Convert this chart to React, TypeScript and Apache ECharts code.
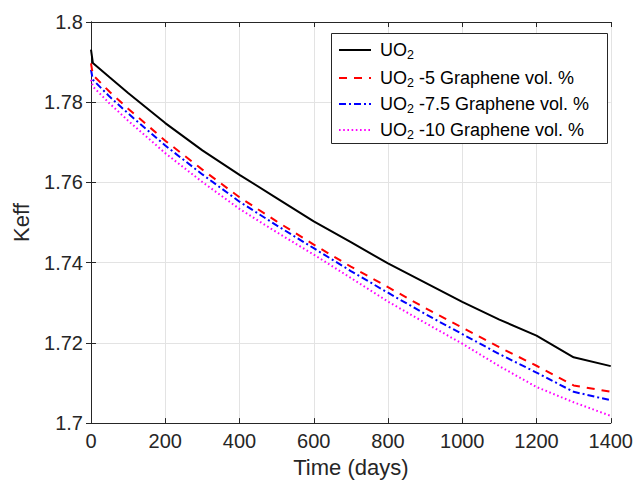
import React, { useEffect, useRef } from "react";
import * as echarts from "echarts";

const days = [0, 5, 50, 100, 200, 300, 400, 500, 600, 700, 800, 900, 1000, 1100, 1200, 1300, 1400];
const keffUO2 = [1.7931, 1.7898, 1.7862, 1.7823, 1.7748, 1.7680, 1.7619, 1.7561, 1.7503, 1.7451, 1.7398, 1.735, 1.7302, 1.7258, 1.7218, 1.7164, 1.7142];
const keff5 = [1.7897, 1.7868, 1.7826, 1.7784, 1.7704, 1.7632, 1.7563, 1.7503, 1.7445, 1.739, 1.7339, 1.7287, 1.7238, 1.7189, 1.7143, 1.7094, 1.7078];
const keff75 = [1.7881, 1.7856, 1.7814, 1.7772, 1.7692, 1.762, 1.7552, 1.7493, 1.7436, 1.7379, 1.7325, 1.7272, 1.7222, 1.7172, 1.7126, 1.7078, 1.7057];
const keff10 = [1.7856, 1.7839, 1.7797, 1.7754, 1.7673, 1.7601, 1.7534, 1.7476, 1.742, 1.7362, 1.7303, 1.725, 1.7198, 1.7142, 1.709, 1.7052, 1.7018];

const seriesNames = ["UO2", "UO2 -5 Graphene vol. %", "UO2 -7.5 Graphene vol. %", "UO2 -10 Graphene vol. %"];
const legendRich = [
  "{n|UO}{s|2}",
  "{n|UO}{s|2}{n| -5 Graphene vol. %}",
  "{n|UO}{s|2}{n| -7.5 Graphene vol. %}",
  "{n|UO}{s|2}{n| -10 Graphene vol. %}",
];
const xMin = 0, xMax = 1400, xStep = 200;
const yMin = 1.7, yMax = 1.8, yStep = 0.02;

const FONT = "'Liberation Sans', Arial, Helvetica, sans-serif";

export default function App() {
  const ref = useRef<HTMLDivElement>(null);
  useEffect(() => {
    document.body.style.margin = "0";
    const chart = echarts.init(ref.current!, null, { renderer: "svg" });
    const valueSets = [keffUO2, keff5, keff75, keff10];
    const colors = ["#000000", "#ff0000", "#0000ff", "#ff00ff"];
    const types: any[] = ["solid", [8, 7], [7, 3, 2, 3], [1.6, 2.6]];
    const rowTops = [41, 69, 95, 121];
    const axisColor = "#262626";
    const grid = { left: 91, right: 24, top: 22, bottom: 59 };
    chart.setOption({
      animation: false,
      backgroundColor: "#ffffff",
      textStyle: { fontFamily: FONT },
      grid,
      graphic: [
        {
          type: "rect",
          z: 50,
          shape: { x: 331.5, y: 33.5, width: 276, height: 110 },
          style: { fill: "#ffffff", stroke: "#262626", lineWidth: 1 },
        },
      ],
      legend: seriesNames.map((nm, i) => ({
        data: [nm],
        left: 338,
        top: rowTops[i],
        padding: 0,
        z: 60,
        itemWidth: 32,
        itemHeight: 14,
        itemStyle: { opacity: 0 },
        formatter: () => legendRich[i],
        textStyle: {
          fontFamily: FONT,
          rich: {
            n: { fontSize: 18, lineHeight: 22, color: "#000", fontFamily: FONT },
            s: { fontSize: 12.5, lineHeight: 12, verticalAlign: "bottom", color: "#000", fontFamily: FONT },
          },
          padding: [0, 0, 0, 4],
        },
      })),
      xAxis: [
        {
          type: "value",
          min: xMin,
          max: xMax,
          interval: xStep,
          name: "Time (days)",
          nameLocation: "middle",
          nameGap: 32,
          nameTextStyle: { fontSize: 22, color: "#262626", fontFamily: FONT },
          axisLine: { show: true, lineStyle: { color: axisColor, width: 1 } },
          axisTick: { show: true, inside: true, length: 5, lineStyle: { color: axisColor } },
          axisLabel: { fontSize: 20, color: "#262626", margin: 8, fontFamily: FONT, formatter: (v: number) => String(v) },
          splitLine: { show: true, lineStyle: { color: "#e3e3e3", width: 1 } },
        },
        {
          type: "value",
          position: "top",
          min: xMin,
          max: xMax,
          interval: xStep,
          axisLine: { show: true, lineStyle: { color: axisColor, width: 1 } },
          axisTick: { show: true, inside: true, length: 5, lineStyle: { color: axisColor } },
          axisLabel: { show: false },
          splitLine: { show: false },
        },
      ],
      yAxis: [
        {
          type: "value",
          min: yMin,
          max: yMax,
          interval: yStep,
          name: "Keff",
          nameLocation: "middle",
          nameGap: 59,
          nameTextStyle: { fontSize: 22, color: "#262626", fontFamily: FONT },
          axisLine: { show: true, lineStyle: { color: axisColor, width: 1 } },
          axisTick: { show: true, inside: true, length: 5, lineStyle: { color: axisColor } },
          axisLabel: { fontSize: 20, color: "#262626", margin: 8, fontFamily: FONT, formatter: (v: number) => String(+v.toFixed(2)) },
          splitLine: { show: true, lineStyle: { color: "#e3e3e3", width: 1 } },
        },
        {
          type: "value",
          position: "right",
          min: yMin,
          max: yMax,
          interval: yStep,
          axisLine: { show: true, lineStyle: { color: axisColor, width: 1 } },
          axisTick: { show: true, inside: true, length: 5, lineStyle: { color: axisColor } },
          axisLabel: { show: false },
          splitLine: { show: false },
        },
      ],
      series: seriesNames.map((nm, i) => ({
        name: nm,
        type: "line",
        xAxisIndex: 0,
        yAxisIndex: 0,
        showSymbol: false,
        symbol: "none",
        color: colors[i],
        lineStyle: { color: colors[i], width: 2, type: types[i] },
        data: days.map((d, k) => [d, valueSets[i][k]]),
        z: 10 - i,
      })),
    });
    return () => chart.dispose();
  }, []);
  return <div ref={ref} style={{ width: 636, height: 483 }} />;
}
